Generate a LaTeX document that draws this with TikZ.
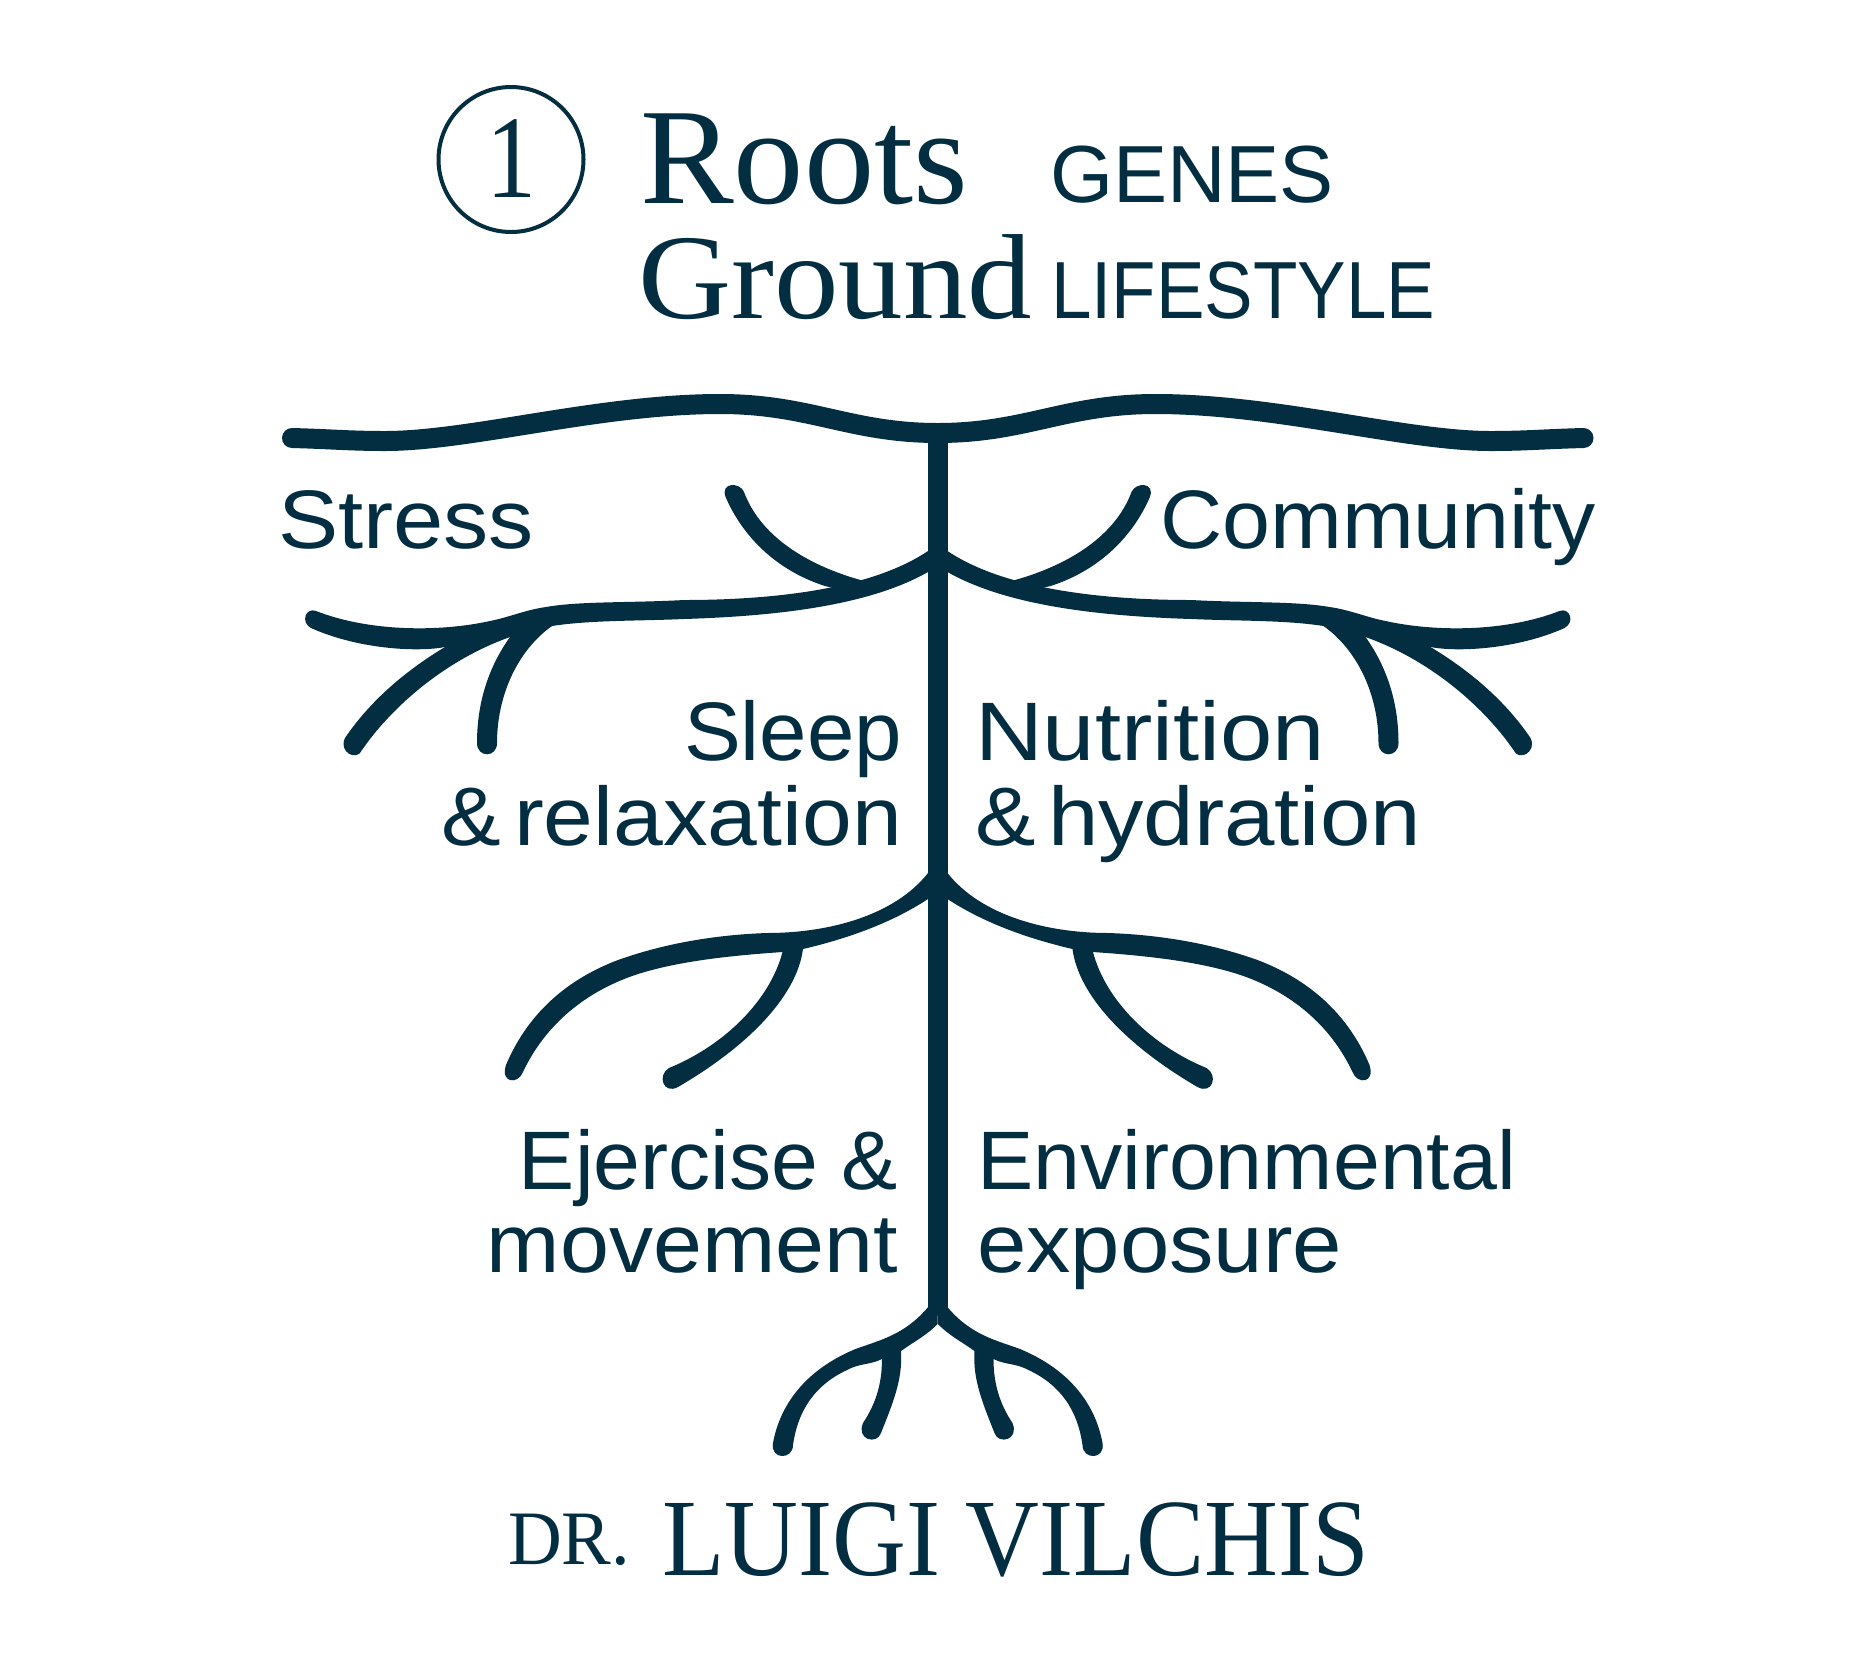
\documentclass[tikz,border=0pt]{standalone}
\usepackage{fontspec}
\usepackage{graphicx}
\newfontfamily\labelfont{Liberation Sans}
\newfontfamily\displayfont{Liberation Serif}
\definecolor{ink}{HTML}{032E42}
% set a text to a given width, leaving its height alone (width in px of the drawing grid)
\newcommand{\fitx}[2]{\resizebox{\dimexpr #1pt/2\relax}{\height}{#2}}
\newcommand{\sans}{\fontsize{41.5pt}{41.5pt}\selectfont\labelfont}
\newcommand{\head}{\fontsize{40.5pt}{40.5pt}\selectfont\labelfont}
\newcommand{\serifsize}[1]{\fontsize{#1}{#1}\selectfont\displayfont}
\newcommand{\tightgap}{\hspace{.14em}}
% one half of the root system, drawn on the left of the trunk
\newcommand{\rootside}{%
  % surface line
  \draw[surface] (292,438) .. controls (330,439) and (350,441) .. (385,441)
    .. controls (470,441) and (600,404) .. (720,404)
    .. controls (810,404) and (850,433) .. (938,433);
  % upper limb
  \fill[ink] (938,548) -- (928,551)
    .. controls (870,590) and (770,600) .. (684,600)
    .. controls (630,603) and (580,601) .. (546,607)
    .. controls (525,610) and (510,617) .. (490,621)
    .. controls (440,632) and (370,632) .. (316,611)
    .. controls (306,607) and (300,622) .. (311,628)
    .. controls (360,650) and (420,652) .. (445,647)
    -- (510,637) -- (552,626)
    .. controls (590,620) and (640,621) .. (684,619)
    .. controls (780,616) and (870,605) .. (928,572)
    -- (938,565) -- cycle;
  \fill[ink] (445,647) .. controls (410,668) and (372,698) .. (345,738)
    .. controls (338,752) and (357,762) .. (362,750)
    .. controls (388,712) and (440,662) .. (510,637)
    -- (500,625) -- (450,630) -- cycle;
  \fill[ink] (510,637) .. controls (490,665) and (477,700) .. (477,743)
    .. controls (477,758) and (497,758) .. (497,743)
    .. controls (497,695) and (518,650) .. (552,626)
    -- (530,620) -- cycle;
  \fill[ink] (825,586) .. controls (775,570) and (742,535) .. (725.6,497)
    .. controls (720,482) and (740,482) .. (744,492)
    .. controls (760,535) and (805,565) .. (864,581)
    -- (850,592) -- cycle;
  % middle limb
  \fill[ink] (938,865) -- (928,873)
    .. controls (895,915) and (830,933) .. (767,933)
    .. controls (710,935) and (660,945) .. (618,960)
    .. controls (560,982) and (525,1020) .. (506,1065)
    .. controls (500,1083) and (518,1085) .. (523,1072)
    .. controls (545,1025) and (585,992) .. (635,975)
    .. controls (680,960) and (740,955) .. (782.5,952)
    -- (803,949)
    .. controls (850,938) and (893,922) .. (928,899)
    -- (938,885) -- cycle;
  \fill[ink] (782.5,952) .. controls (770,1000) and (725,1045) .. (669,1068)
    .. controls (657,1075) and (663,1095) .. (678,1087)
    .. controls (750,1045) and (797,995) .. (803,949)
    -- (795,940) -- cycle;
  % lowest roots
  \fill[ink] (938,1300) -- (929,1306)
    .. controls (905,1335) and (880,1340) .. (855.5,1349)
    .. controls (805,1370) and (780,1405) .. (773,1443)
    .. controls (770,1460) and (793,1460) .. (793,1445)
    .. controls (798,1410) and (815,1385) .. (847,1370)
    .. controls (860,1363) and (870,1365) .. (882,1359)
    -- (901,1351)
    .. controls (915,1341) and (927,1335) .. (937.6,1324)
    -- cycle;
  \fill[ink] (882,1359) .. controls (882,1385) and (875,1405) .. (863,1423)
    .. controls (856,1440) and (877,1445) .. (881,1433)
    .. controls (892,1405) and (903,1380) .. (901,1351)
    -- (890,1350) -- cycle;
}
\begin{document}
\begin{tikzpicture}[x=0.5pt,y=-0.5pt,
    surface/.style={draw=ink,line width=10pt,line cap=round},
    txt/.style={inner sep=0pt,outer sep=0pt,text=ink},
    leftlabel/.style={txt,anchor=base east},
    rightlabel/.style={txt,anchor=base west}]
  \useasboundingbox (0,0) rectangle (1875,1667);
  \fill[white] (0,0) rectangle (1875,1667);

  % heading
  \node[draw=ink,line width=2pt,circle,minimum size=72.5pt,inner sep=0pt] (badge) at (511,159.5) {};
  \node[txt,anchor=base] (numeral) at (511.5,197) {\fitx{50}{\serifsize{59pt}1}};
  \node[rightlabel] (roots) at (640,203) {\fitx{328}{\serifsize{68.5pt}Roots}};
  \node[rightlabel] (ground) at (638,318) {\fitx{394}{\serifsize{60.5pt}Ground}};
  \node[rightlabel] (genes) at (1050,202) {\fitx{284}{\head GENES}};
  \node[rightlabel] (lifestyle) at (1051,318) {\fitx{384}{\head LIFESTYLE}};

  % trunk and both sides of the root system
  \fill[ink] (928,425) rectangle (947.5,1315);
  \rootside
  \begin{scope}[shift={(1875.5,0)},xscale=-1]
    \rootside
  \end{scope}

  % labels
  \node[rightlabel] (stress) at (278,548) {\fitx{256}{\sans Stress}};
  \node[rightlabel] (community) at (1160,548) {\fitx{436}{\sans Community}};
  \node[leftlabel] (sleep) at (902,760) {\fitx{218}{\sans Sleep}};
  \node[leftlabel] (relax) at (902,845) {\fitx{460}{\sans \&\tightgap relaxation}};
  \node[rightlabel] (nutrition) at (975,760) {\fitx{350}{\sans Nutrition}};
  \node[rightlabel] (hydration) at (975,845) {\fitx{446}{\sans \&\tightgap hydration}};
  \node[leftlabel] (exercise) at (898,1189) {\fitx{379}{\sans Ejercise \&}};
  \node[leftlabel] (movement) at (898,1272) {\fitx{411}{\sans movement}};
  \node[rightlabel] (environmental) at (977,1189) {\fitx{539}{\sans Environmental}};
  \node[rightlabel] (exposure) at (977,1272) {\fitx{365}{\sans exposure}};

  % signature
  \node[rightlabel] (title) at (508,1564) {\fitx{122}{\serifsize{38.5pt}DR.}};
  \node[rightlabel] (name) at (662,1575) {\fitx{707}{\serifsize{55pt}LUIGI VILCHIS}};
\end{tikzpicture}
\end{document}
